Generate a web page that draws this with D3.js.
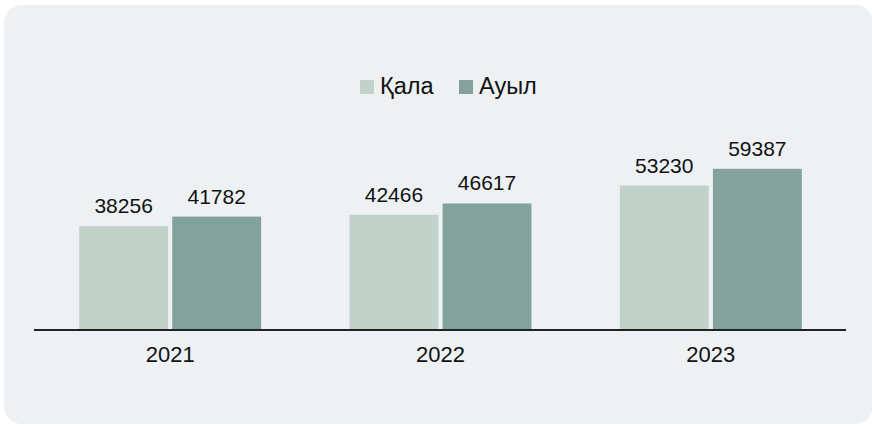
<!DOCTYPE html>
<html>
<head>
<meta charset="utf-8">
<script src="https://cdn.jsdelivr.net/npm/d3@7"></script>
<style>
  body { margin: 0; background: #fff; }
  text { font-family: "Liberation Sans", Arial, Helvetica, sans-serif; fill: #111; }
</style>
</head>
<body>
<svg id="chart"></svg>
<script>
const years = ['2021', '2022', '2023'];
const series = ['Қала', 'Ауыл'];
const qala = [38256, 42466, 53230];
const auyl = [41782, 46617, 59387];
const colors = ['#c0d2ca', '#82a29a'];

const width = 872, height = 426;
const svg = d3.select('#chart').attr('width', width).attr('height', height);

// card background
svg.append('rect')
    .attr('x', 4).attr('y', 5)
    .attr('width', 869).attr('height', 419)
    .attr('rx', 18)
    .attr('fill', '#edf1f4');

const rows = years.map((y, i) => ({year: y, values: [qala[i], auyl[i]]}));

const x0 = d3.scaleBand().domain(years).range([35, 846])
    .paddingInner(0.327).paddingOuter(0.1635);
const x1 = d3.scaleBand().domain(series).range([0, x0.bandwidth()]).paddingInner(0.045);
const y = d3.scaleLinear().domain([0, 70000]).range([330, 140]);

const groups = svg.append('g').selectAll('g')
    .data(rows)
    .join('g')
    .attr('transform', d => `translate(${x0(d.year)},0)`);

groups.selectAll('rect')
    .data(d => d.values.map((v, i) => ({key: series[i], v, i})))
    .join('rect')
    .attr('x', d => x1(d.key))
    .attr('y', d => y(d.v))
    .attr('width', x1.bandwidth())
    .attr('height', d => y(0) - y(d.v))
    .attr('fill', d => colors[d.i]);

groups.selectAll('text')
    .data(d => d.values.map((v, i) => ({key: series[i], v})))
    .join('text')
    .attr('x', d => x1(d.key) + x1.bandwidth() / 2)
    .attr('y', d => y(d.v) - 13)
    .attr('text-anchor', 'middle')
    .attr('font-size', 21)
    .text(d => d.v);

// x axis
const xAxis = svg.append('g')
    .attr('transform', `translate(0,${y(0)})`)
    .call(d3.axisBottom(x0).tickSize(0).tickPadding(16));
xAxis.select('.domain').attr('stroke', '#222').attr('stroke-width', 2)
    .attr('d', 'M34,0H846');
xAxis.selectAll('text').attr('font-size', 22).attr('fill', '#111')
    .attr('font-family', '"Liberation Sans", Arial, sans-serif');

// legend
const legend = svg.append('g');
const legendX = [360, 459];
series.forEach((s, i) => {
    legend.append('rect')
        .attr('x', legendX[i]).attr('y', 80)
        .attr('width', 14).attr('height', 14)
        .attr('fill', colors[i]);
    legend.append('text')
        .attr('x', legendX[i] + 20).attr('y', 94)
        .attr('font-size', 23.5)
        .text(s);
});
</script>
</body>
</html>
